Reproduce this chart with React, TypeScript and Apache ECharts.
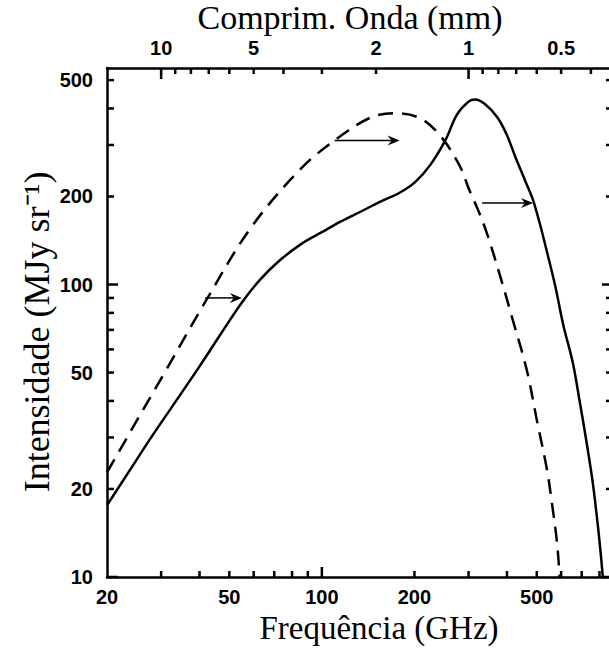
import { useEffect, useRef } from "react";
import * as echarts from "echarts";

// ---- axes ----
const xMin = 20;
const xMax = 885;
const yMin = 10;
const yMax = 550;
const xTickLabels = [20, 50, 100, 200, 500];
const xMinorTicks = [30, 40, 50, 60, 70, 80, 90, 200, 300, 400, 500, 600, 700, 800];
const xMajorTicks = [100];
const yTickLabels = [10, 20, 50, 100, 200, 500];
const yMinorTicks = [20, 30, 40, 50, 60, 70, 80, 90, 200, 300, 400, 500];
const yMajorTicks = [10, 100];
const topLabelsMm = [10, 5, 2, 1, 0.5];
const topMinorMm = [9, 8, 7, 6, 5, 4, 3, 2, 0.9, 0.8, 0.7, 0.6, 0.5, 0.4];
const topMajorMm = [10, 1];
const mmGHz = 300; // wavelength (mm) x frequency (GHz)

// ---- series (frequency GHz, intensity MJy/sr) ----
const dashedFreq = [20, 23.8, 30.9, 41.7, 58.4, 84.8, 110, 143, 172, 208, 242, 280, 302, 322, 344, 381, 418, 464, 500, 540, 560, 582, 594];
const dashedInt = [22.8, 31.3, 50.3, 87, 155, 247, 311, 371, 385, 371, 324, 256, 210, 180, 150, 106, 75.5, 51, 34.5, 23.2, 17.9, 13.1, 9.8];

const solidFreq = [20, 24, 27.6, 33, 40, 47, 55, 63, 73, 86, 100, 115, 133, 155, 179, 201, 225, 252, 275, 300, 315, 339, 372, 400, 426, 458, 485, 512, 540, 574, 610, 654, 690, 726, 761, 790, 808, 820, 839];
const solidInt = [17.6, 23.6, 29.6, 39, 52.5, 68, 87, 104, 121, 138, 151, 164, 177, 192, 206, 224, 256, 311, 381, 422, 429, 414, 373, 324, 273, 227, 196, 161, 129, 99, 72.6, 54.4, 39.7, 28.9, 20.9, 15, 11.9, 10, 7.9];

// arrows: from GHz, to GHz, at intensity
const arrowFrom = [110, 41.7, 332];
const arrowTo = [179, 54.9, 486];
const arrowLevel = [311, 90, 190];

const labelFont = "Liberation Sans";
const titleFont = "Liberation Serif";

export default function App() {
  const ref = useRef<HTMLDivElement>(null);
  useEffect(() => {
    if (!ref.current) return;
    const chart = echarts.init(ref.current, null, { renderer: "svg" });
    const axisLine = { show: true, lineStyle: { color: "#000", width: 2.5 } };
    const baseX = { type: "log", logBase: 10, min: xMin, max: xMax, splitLine: { show: false }, axisTick: { show: false } };
    const baseY = { type: "log", logBase: 10, min: yMin, max: yMax, splitLine: { show: false }, axisTick: { show: false } };
    const labelStyle = { color: "#000", fontFamily: labelFont, fontSize: 20, fontWeight: "bold" };

    const titles: any[] = [
      {
        type: "text", x: 350, y: 17,
        style: { text: "Comprim. Onda (mm)", fontFamily: titleFont, fontSize: 34, fill: "#000", textAlign: "center", textVerticalAlign: "middle" },
      },
      {
        type: "text", x: 379, y: 628,
        style: { text: "Frequência (GHz)", fontFamily: titleFont, fontSize: 33, fill: "#000", textAlign: "center", textVerticalAlign: "middle" },
      },
      {
        type: "text", x: 37, y: 332, rotation: Math.PI / 2,
        style: { text: "Intensidade (MJy sr⁻¹)", fontFamily: titleFont, fontSize: 36, fill: "#000", textAlign: "center", textVerticalAlign: "middle" },
      },
    ];

    const option: any = {
      animation: false,
      backgroundColor: "#fff",
      grid: { left: 107, top: 68, right: -4, bottom: 71, containLabel: false, outerBoundsMode: "none" },
      xAxis: [
        {
          ...baseX, position: "bottom", axisLine,
          axisLabel: { ...labelStyle, margin: 10, customValues: xTickLabels, formatter: (v: number) => String(v) },
        },
        {
          ...baseX, position: "top", axisLine,
          axisLabel: {
            ...labelStyle, margin: 10,
            customValues: topLabelsMm.map((m) => mmGHz / m),
            formatter: (v: number) => String(+(mmGHz / v).toFixed(2)),
          },
        },
      ],
      yAxis: [
        {
          ...baseY, position: "left", axisLine,
          axisLabel: { ...labelStyle, margin: 14, customValues: yTickLabels, formatter: (v: number) => String(v) },
        },
        {
          ...baseY, position: "right", axisLine,
          axisLabel: { show: false },
        },
      ],
      series: [
        {
          type: "line",
          name: "CMB",
          xAxisIndex: 0,
          yAxisIndex: 0,
          data: dashedFreq.map((f, i) => [f, dashedInt[i]]),
          showSymbol: false,
          smooth: 0.35,
          lineStyle: { color: "#000", width: 2.5, type: [15, 9] },
        },
        {
          type: "line",
          name: "SZE",
          xAxisIndex: 0,
          yAxisIndex: 0,
          data: solidFreq.map((f, i) => [f, solidInt[i]]),
          showSymbol: false,
          smooth: 0.35,
          lineStyle: { color: "#000", width: 2.5, type: "solid" },
        },
      ],
      graphic: titles,
    };
    try {
      chart.setOption(option);
    } catch (e) {
      /* keep going */
    }

    // ticks and arrows, placed through the chart's own log scales
    const extra: any[] = [];
    try {
      const toPx = (x: number, y: number) =>
        chart.convertToPixel({ seriesIndex: 0 } as any, [x, y]) as unknown as number[];
      const seg = (x1: number, y1: number, x2: number, y2: number, w: number) => ({
        type: "line",
        silent: true,
        z: 100,
        shape: { x1, y1, x2, y2 },
        style: { stroke: "#000", lineWidth: w },
      });
      const tick = (p: number[], dx: number, dy: number) => seg(p[0], p[1], p[0] + dx, p[1] + dy, 2.5);
      xMinorTicks.forEach((v) => extra.push(tick(toPx(v, yMin), 0, -6)));
      xMajorTicks.forEach((v) => extra.push(tick(toPx(v, yMin), 0, -10)));
      topMinorMm.forEach((m) => extra.push(tick(toPx(mmGHz / m, yMax), 0, 6)));
      topMajorMm.forEach((m) => extra.push(tick(toPx(mmGHz / m, yMax), 0, 11)));
      yMinorTicks.forEach((v) => extra.push(tick(toPx(xMin, v), 7, 0)));
      yMajorTicks.forEach((v) => extra.push(tick(toPx(xMin, v), 11, 0)));
      yMinorTicks.forEach((v) => extra.push(tick(toPx(xMax, v), -7, 0)));
      yMajorTicks.forEach((v) => extra.push(tick(toPx(xMax, v), -11, 0)));
      arrowFrom.forEach((f, i) => {
        const a = toPx(f, arrowLevel[i]);
        const b = toPx(arrowTo[i], arrowLevel[i]);
        extra.push(seg(a[0], a[1], b[0] - 6, b[1], 1.5));
        extra.push({
          type: "polygon",
          silent: true,
          z: 100,
          shape: { points: [[b[0], b[1]], [b[0] - 12, b[1] - 5], [b[0] - 8, b[1]], [b[0] - 12, b[1] + 5]] },
          style: { fill: "#000" },
        });
      });
    } catch (e) {
      /* keep going */
    }
    try {
      chart.setOption({ graphic: [...titles, ...extra] });
    } catch (e) {
      /* ignore */
    }

    return () => chart.dispose();
  }, []);
  return <div ref={ref} style={{ position: "fixed", left: 0, top: 0, width: 609, height: 648 }} />;
}
